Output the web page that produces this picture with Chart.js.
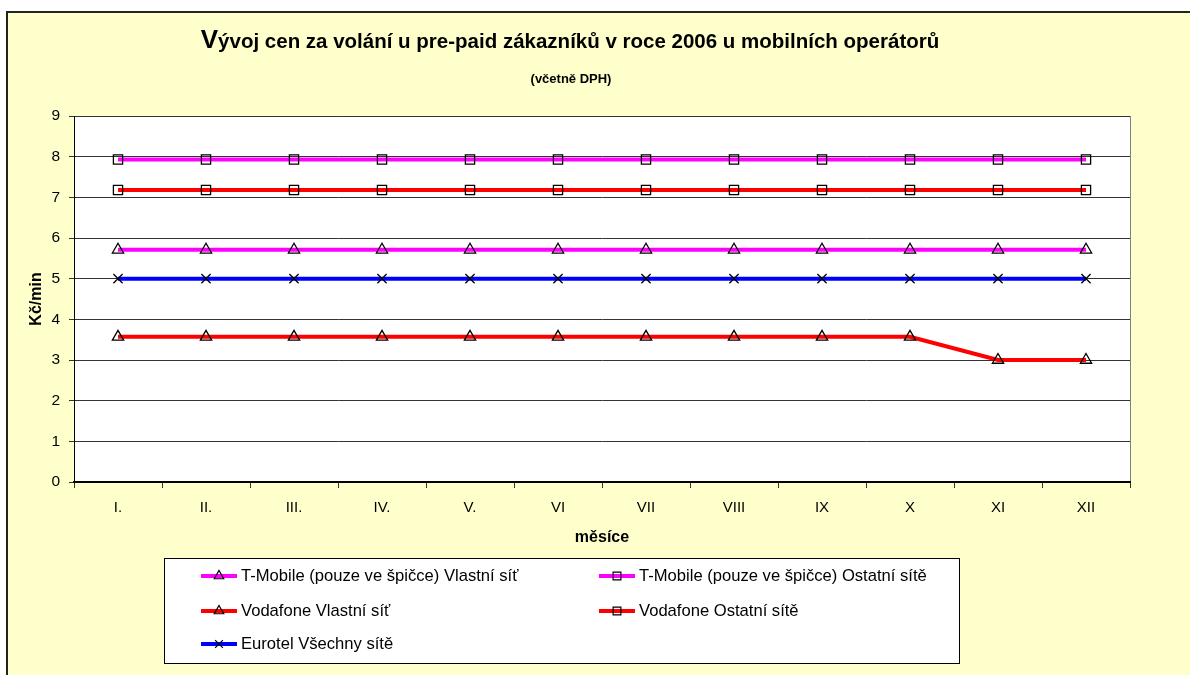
<!DOCTYPE html>
<html>
<head>
<meta charset="utf-8">
<script src="https://cdn.jsdelivr.net/npm/chart.js@4.4.1/dist/chart.umd.min.js"></script>
<style>
    html, body { margin: 0; padding: 0; background: #fff; }
    #wrap { width: 1190px; height: 675px; }
</style>
</head>
<body>
<div id="wrap"><canvas id="lineChart" width="1190" height="675"></canvas></div>
<script>
// Données (Kč/min)
const mesice = ['I.', 'II.', 'III.', 'IV.', 'V.', 'VI', 'VII', 'VIII', 'IX', 'X', 'XI', 'XII'];
const tmobileVlastni = [5.71, 5.71, 5.71, 5.71, 5.71, 5.71, 5.71, 5.71, 5.71, 5.71, 5.71, 5.71];
const tmobileOstatni = [7.93, 7.93, 7.93, 7.93, 7.93, 7.93, 7.93, 7.93, 7.93, 7.93, 7.93, 7.93];
const vodafoneVlastni = [3.57, 3.57, 3.57, 3.57, 3.57, 3.57, 3.57, 3.57, 3.57, 3.57, 3.0, 3.0];
const vodafoneOstatni = [7.18, 7.18, 7.18, 7.18, 7.18, 7.18, 7.18, 7.18, 7.18, 7.18, 7.18, 7.18];
const eurotelVsechny = [5.0, 5.0, 5.0, 5.0, 5.0, 5.0, 5.0, 5.0, 5.0, 5.0, 5.0, 5.0];
const yTicks = [0, 9, 1]; // min, max, pas

const FONT = "'Liberation Sans', Arial, sans-serif";

function serie(label, data, color, style) {
    return {
        label: label,
        data: data,
        borderColor: color,
        backgroundColor: color,
        borderWidth: 4,
        pointStyle: style,
        pointRadius: 6.5,
        pointHoverRadius: 6.5,
        pointBorderColor: '#000',
        pointBackgroundColor: 'rgba(0,0,0,0)',
        pointBorderWidth: 1.3,
        tension: 0,
        fill: false
    };
}

// fond jaune, cadre, zone blanche du graphique
const fondPlugin = {
    id: 'fond',
    beforeDraw(chart) {
        const ctx = chart.ctx;
        const a = chart.chartArea;
        ctx.save();
        ctx.fillStyle = '#fff';
        ctx.fillRect(0, 0, chart.width, chart.height);
        ctx.fillStyle = '#FFFFCC';
        ctx.fillRect(6, 11, chart.width, chart.height);
        ctx.strokeStyle = '#222';
        ctx.lineWidth = 2;
        ctx.beginPath();
        ctx.moveTo(7, chart.height + 5);
        ctx.lineTo(7, 12);
        ctx.lineTo(chart.width + 5, 12);
        ctx.stroke();
        ctx.fillStyle = '#fff';
        ctx.fillRect(a.left, a.top, a.right - a.left, a.bottom - a.top);
        ctx.strokeStyle = '#808080';
        ctx.lineWidth = 1;
        ctx.strokeRect(a.left + 0.5, a.top + 0.5, a.right - a.left, a.bottom - a.top);

        // titre
        ctx.fillStyle = '#000';
        ctx.textBaseline = 'alphabetic';
        const f1 = "bold 26px " + FONT, f2 = "bold 20.5px " + FONT;
        const reste = 'ývoj cen za volání u pre-paid zákazníků v roce 2006 u mobilních operátorů';
        ctx.font = f1;
        const w1 = ctx.measureText('V').width;
        ctx.font = f2;
        const w2 = ctx.measureText(reste).width;
        let x = 570 - (w1 + w2) / 2;
        ctx.textAlign = 'left';
        ctx.font = f1;
        ctx.fillText('V', x, 48);
        ctx.font = f2;
        ctx.fillText(reste, x + w1, 48);
        ctx.font = "bold 13px " + FONT;
        ctx.textAlign = 'center';
        ctx.textBaseline = 'middle';
        ctx.fillText('(včetně DPH)', 571, 79);
        ctx.restore();
    }
};

// légende encadrée sur deux colonnes
const legendePlugin = {
    id: 'legende',
    afterDraw(chart) {
        const ctx = chart.ctx;
        const cols = [201, 599];
        const rows = [576, 611, 644];
        ctx.save();
        ctx.fillStyle = '#fff';
        ctx.fillRect(164, 558, 795, 105);
        ctx.strokeStyle = '#000';
        ctx.lineWidth = 1;
        ctx.strokeRect(164.5, 558.5, 795, 105);
        chart.data.datasets.forEach((ds, i) => {
            const x = cols[i % 2];
            const y = rows[Math.floor(i / 2)];
            ctx.strokeStyle = ds.borderColor;
            ctx.lineWidth = 4;
            ctx.beginPath();
            ctx.moveTo(x, y);
            ctx.lineTo(x + 36, y);
            ctx.stroke();
            ctx.strokeStyle = '#000';
            ctx.fillStyle = 'rgba(0,0,0,0)';
            ctx.lineWidth = 1.2;
            Chart.helpers.drawPoint(ctx, { pointStyle: ds.pointStyle, radius: 5.5, rotation: 0, borderWidth: 1.2 }, x + 18, y);
            ctx.fillStyle = '#000';
            ctx.font = "16.6px " + FONT;
            ctx.textAlign = 'left';
            ctx.textBaseline = 'middle';
            ctx.fillText(ds.label, x + 40, y);
        });
        ctx.restore();
    }
};

const ctx = document.getElementById('lineChart').getContext('2d');

new Chart(ctx, {
    type: 'line',
    data: {
        labels: mesice,
        datasets: [
            serie('T-Mobile (pouze ve špičce) Vlastní síť', tmobileVlastni, '#FF00FF', 'triangle'),
            serie('T-Mobile (pouze ve špičce) Ostatní sítě', tmobileOstatni, '#FF00FF', 'rect'),
            serie('Vodafone Vlastní síť', vodafoneVlastni, '#FF0000', 'triangle'),
            serie('Vodafone Ostatní sítě', vodafoneOstatni, '#FF0000', 'rect'),
            serie('Eurotel Všechny sítě', eurotelVsechny, '#0000FF', 'crossRot')
        ]
    },
    options: {
        responsive: false,
        animation: false,
        events: [],
        layout: {
            padding: { top: 116, left: 0, right: 60, bottom: 128 }
        },
        plugins: {
            legend: { display: false },
            title: { display: false },
            tooltip: { enabled: false }
        },
        scales: {
            x: {
                offset: true,
                afterFit: scale => { scale.height = 65; },
                grid: {
                    offset: true,
                    drawOnChartArea: false,
                    drawTicks: true,
                    tickLength: 6,
                    color: '#333'
                },
                border: { color: '#000', width: 2 },
                ticks: {
                    color: '#000',
                    padding: 11,
                    font: { family: FONT, size: 15 }
                },
                title: {
                    display: true,
                    text: 'měsíce',
                    color: '#000',
                    padding: 0,
                    font: { family: FONT, size: 16, weight: 'bold' }
                }
            },
            y: {
                min: yTicks[0],
                max: yTicks[1],
                afterFit: scale => { scale.width = 74; },
                grid: {
                    color: '#333',
                    tickLength: 5
                },
                border: { color: '#000', width: 1 },
                ticks: {
                    stepSize: yTicks[2],
                    color: '#000',
                    padding: 9,
                    font: { family: FONT, size: 15.5 }
                },
                title: {
                    display: true,
                    text: 'Kč/min',
                    color: '#000',
                    padding: { top: 27, bottom: 0 },
                    font: { family: FONT, size: 16, weight: 'bold' }
                }
            }
        }
    },
    plugins: [fondPlugin, legendePlugin]
});
</script>
</body>
</html>
